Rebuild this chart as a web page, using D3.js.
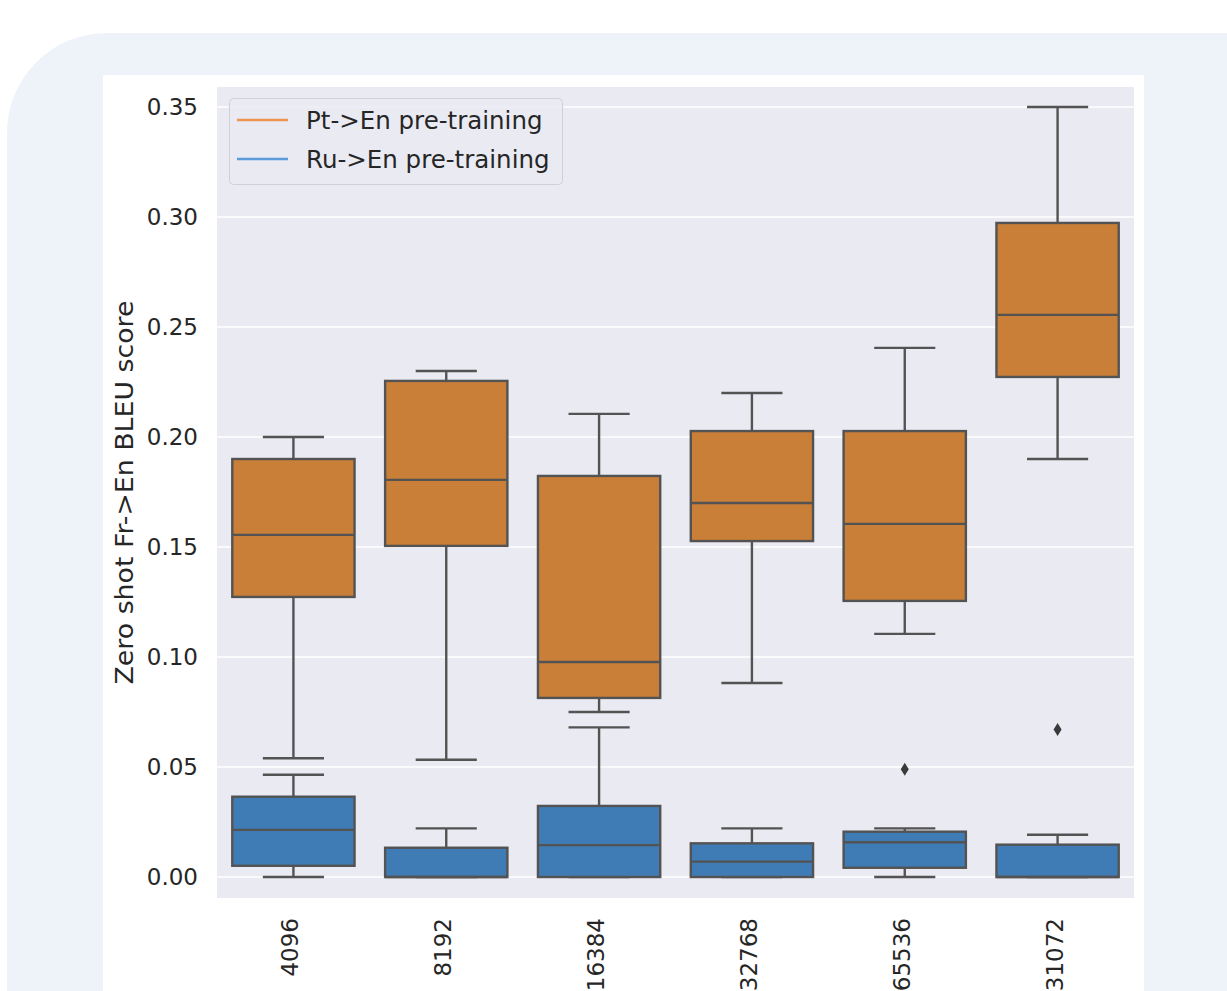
<!DOCTYPE html>
<html>
<head>
<meta charset="utf-8">
<script src="https://cdn.jsdelivr.net/npm/d3@7"></script>
<style>
  html, body { margin: 0; padding: 0; background: #ffffff; overflow: hidden; }
  svg { display: block; }
</style>
</head>
<body>
<svg id="chart" width="1227" height="991"></svg>
<script>
const categories = ["4096", "8192", "16384", "32768", "65536", "131072"];
const seriesNames = ["Pt->En pre-training", "Ru->En pre-training"];

const ptLow    = [0.0540, 0.0533, 0.0750, 0.0882, 0.1105, 0.1900];
const ptQ1     = [0.1273, 0.1505, 0.0814, 0.1527, 0.1255, 0.2273];
const ptMedian = [0.1555, 0.1805, 0.0977, 0.1700, 0.1605, 0.2555];
const ptQ3     = [0.1900, 0.2255, 0.1823, 0.2027, 0.2027, 0.2973];
const ptHigh   = [0.2000, 0.2300, 0.2105, 0.2200, 0.2405, 0.3500];
const ptOutliers = [[], [], [], [], [], []];

const ruLow    = [0.0000, 0.0000, 0.0000, 0.0000, 0.0000, 0.0000];
const ruQ1     = [0.0051, 0.0000, 0.0000, 0.0000, 0.0042, 0.0000];
const ruMedian = [0.0214, 0.0000, 0.0145, 0.0070, 0.0158, 0.0000];
const ruQ3     = [0.0365, 0.0133, 0.0323, 0.0153, 0.0206, 0.0147];
const ruHigh   = [0.0465, 0.0221, 0.0680, 0.0221, 0.0221, 0.0192];
const ruOutliers = [[], [], [], [], [0.0490], [0.0671]];

const yTicks = [0.00, 0.05, 0.10, 0.15, 0.20, 0.25, 0.30, 0.35];

const boxColors = ["#C97F38", "#3F7CB6"];
const legendColors = ["#EB9550", "#5C9BD9"];
const lineColor = "#535353";

const svg = d3.select("#chart");

// background cards
svg.append("rect").attr("x", 7).attr("y", 33).attr("width", 1320).attr("height", 1100)
  .attr("rx", 100).attr("fill", "#EEF2F9");
svg.append("rect").attr("x", 103).attr("y", 75).attr("width", 1041).attr("height", 1000)
  .attr("fill", "#ffffff");

const plot = { left: 217, right: 1134, top: 87, bottom: 898 };

const y = d3.scaleLinear()
  .domain([-21 / 2200, 0.35 + 20 / 2200])
  .range([plot.bottom, plot.top]);

const x = d3.scaleBand().domain(categories).range([plot.left, plot.right]).padding(0);

svg.append("rect").attr("x", plot.left).attr("y", plot.top)
  .attr("width", plot.right - plot.left).attr("height", plot.bottom - plot.top)
  .attr("fill", "#EAEAF2");

// grid
svg.append("g").selectAll("line").data(yTicks).join("line")
  .attr("x1", plot.left).attr("x2", plot.right)
  .attr("y1", d => y(d)).attr("y2", d => y(d))
  .attr("stroke", "#ffffff").attr("stroke-width", 1.5);

// y axis
const yAxis = svg.append("g").attr("transform", `translate(${plot.left},0)`)
  .call(d3.axisLeft(y).tickValues(yTicks).tickFormat(d3.format(".2f")).tickSize(0).tickPadding(19));
yAxis.select(".domain").remove();
yAxis.selectAll("text").attr("font-family", "DejaVu Sans").attr("font-size", 23).attr("fill", "#262626");

// x axis
const xAxis = svg.append("g").attr("transform", `translate(0,${plot.bottom})`)
  .call(d3.axisBottom(x).tickSize(0).tickPadding(0));
xAxis.select(".domain").remove();
xAxis.selectAll("text")
  .attr("font-family", "DejaVu Sans").attr("font-size", 23).attr("fill", "#262626")
  .attr("text-anchor", "end")
  .attr("transform", "translate(-3,20) rotate(-90)")
  .attr("x", 0).attr("y", 0).attr("dy", "0.35em");

// y label
svg.append("text")
  .attr("transform", `translate(133,${(plot.top + plot.bottom) / 2}) rotate(-90)`)
  .attr("text-anchor", "middle")
  .attr("font-family", "DejaVu Sans").attr("font-size", 25)
  .attr("textLength", 384).attr("lengthAdjust", "spacingAndGlyphs")
  .attr("fill", "#262626")
  .text("Zero shot Fr->En BLEU score");

// boxes
const series = [
  { low: ptLow, q1: ptQ1, med: ptMedian, q3: ptQ3, high: ptHigh, out: ptOutliers },
  { low: ruLow, q1: ruQ1, med: ruMedian, q3: ruQ3, high: ruHigh, out: ruOutliers }
];
const bw = x.bandwidth() * 0.8;
const sw = 2.4;
series.forEach((s, si) => {
  const rows = categories.map((c, i) => ({
    c, low: s.low[i], q1: s.q1[i], med: s.med[i], q3: s.q3[i], high: s.high[i], out: s.out[i]
  }));
  const g = svg.append("g");
  const grp = g.selectAll("g").data(rows).join("g")
    .attr("transform", d => `translate(${x(d.c) + x.bandwidth() / 2},0)`);
  grp.append("line").attr("x1", 0).attr("x2", 0)
    .attr("y1", d => y(d.q3)).attr("y2", d => y(d.high))
    .attr("stroke", lineColor).attr("stroke-width", sw);
  grp.append("line").attr("x1", 0).attr("x2", 0)
    .attr("y1", d => y(d.q1)).attr("y2", d => y(d.low))
    .attr("stroke", lineColor).attr("stroke-width", sw);
  grp.append("line").attr("x1", -bw / 4).attr("x2", bw / 4)
    .attr("y1", d => y(d.high)).attr("y2", d => y(d.high))
    .attr("stroke", lineColor).attr("stroke-width", sw);
  grp.append("line").attr("x1", -bw / 4).attr("x2", bw / 4)
    .attr("y1", d => y(d.low)).attr("y2", d => y(d.low))
    .attr("stroke", lineColor).attr("stroke-width", sw);
  grp.append("rect").attr("x", -bw / 2).attr("width", bw)
    .attr("y", d => y(d.q3)).attr("height", d => y(d.q1) - y(d.q3))
    .attr("fill", boxColors[si]).attr("stroke", lineColor).attr("stroke-width", sw);
  grp.append("line").attr("x1", -bw / 2).attr("x2", bw / 2)
    .attr("y1", d => y(d.med)).attr("y2", d => y(d.med))
    .attr("stroke", lineColor).attr("stroke-width", sw);
  grp.selectAll("path.out").data(d => d.out).join("path").attr("class", "out")
    .attr("d", v => `M0,${y(v) - 6.5} L4,${y(v)} L0,${y(v) + 6.5} L-4,${y(v)} Z`)
    .attr("fill", "#3a3a3a");
});

// legend
const lg = svg.append("g");
lg.append("rect").attr("x", 229.5).attr("y", 98.5).attr("width", 333).attr("height", 86)
  .attr("rx", 4).attr("fill", "#EAEAF2").attr("fill-opacity", 0.8)
  .attr("stroke", "#D0D0D6").attr("stroke-width", 1);
seriesNames.forEach((name, i) => {
  const yy = 120 + i * 39;
  lg.append("line").attr("x1", 237).attr("x2", 288).attr("y1", yy).attr("y2", yy)
    .attr("stroke", legendColors[i]).attr("stroke-width", 2.5);
  lg.append("text").attr("x", 306).attr("y", yy).attr("dy", "0.35em")
    .attr("font-family", "DejaVu Sans").attr("font-size", 24.5).attr("fill", "#262626")
    .text(name);
});
</script>
</body>
</html>
